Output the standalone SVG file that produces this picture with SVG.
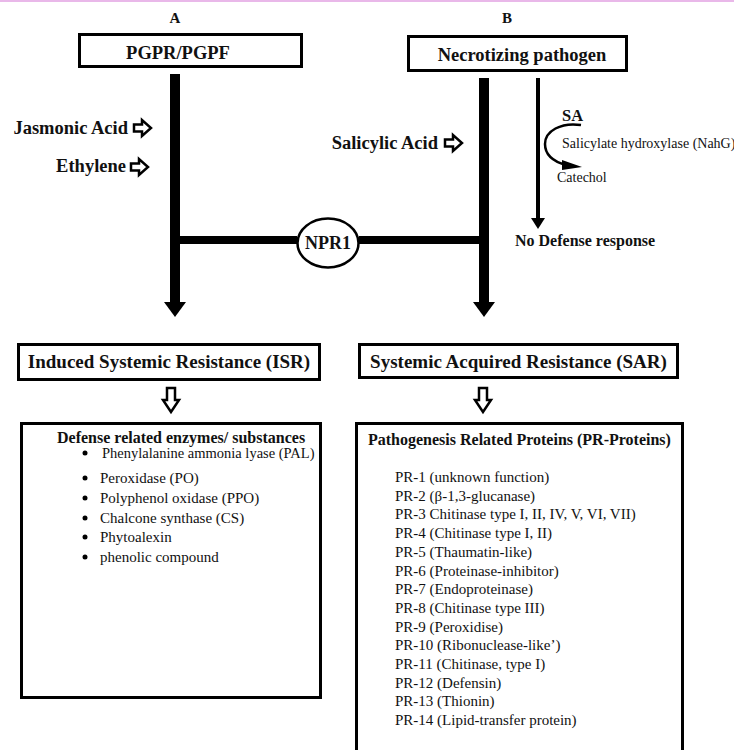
<svg xmlns="http://www.w3.org/2000/svg" width="734" height="750" viewBox="0 0 734 750">
<style>
text{font-family:"Liberation Serif","Times New Roman",serif;fill:#111}
.b{font-weight:bold}
.box{fill:#fff;stroke:#000;stroke-width:3}
.hol{fill:#fff;stroke:#000;stroke-width:2.5;stroke-linejoin:miter}
.bar{stroke:#000;fill:none}
</style>
<defs>
<path id="rarr" d="M0,-3.5 H8 V-8 L17,0 L8,8 V3.5 H0 Z"/>
<path id="darr" d="M-4,0 H4 V12 H8 L0,24 L-8,12 H-4 Z"/>
</defs>
<rect x="0" y="0" width="734" height="750" fill="#fff"/>
<line x1="0" y1="1" x2="734" y2="1" stroke="#e9b8e9" stroke-width="2"/>

<text class="b" x="175" y="23" font-size="15" text-anchor="middle">A</text>
<text class="b" x="507" y="23" font-size="15" text-anchor="middle">B</text>

<g id="connectors">
<line class="bar" x1="175" y1="74" x2="175" y2="303" stroke-width="10"/>
<polygon points="164,302 186,302 175,317" fill="#000"/>
<line class="bar" x1="484" y1="78" x2="484" y2="303" stroke-width="10"/>
<polygon points="473,302 495,302 484,317" fill="#000"/>
<line class="bar" x1="180" y1="240" x2="297" y2="240" stroke-width="8"/>
<line class="bar" x1="359" y1="240" x2="480" y2="240" stroke-width="8"/>
<line class="bar" x1="538" y1="78" x2="538" y2="219" stroke-width="4"/>
<polygon points="531,218 545,218 538,229" fill="#000"/>
<path class="bar" d="M581,125 C561,122 545,131 545,144 C545,156 555,162 566,165" stroke-width="2.5"/>
<polygon points="562,160 582,167 562,170" fill="#000"/>
<use href="#rarr" class="hol" x="134" y="128"/>
<use href="#rarr" class="hol" x="131" y="167"/>
<use href="#rarr" class="hol" x="445" y="143"/>
<use href="#darr" class="hol" x="171" y="388"/>
<use href="#darr" class="hol" x="483" y="388"/>
</g>

<g id="pgpr">
<rect class="box" x="79.5" y="34.5" width="222" height="32"/>
<text class="b" x="178" y="58.5" font-size="18.5" text-anchor="middle">PGPR/PGPF</text>
</g>
<g id="necrotizing">
<rect class="box" x="408.5" y="36.5" width="218" height="34"/>
<text class="b" x="522" y="61" font-size="18.5" text-anchor="middle">Necrotizing pathogen</text>
</g>

<g id="jasmonic"><text class="b" x="128" y="134" font-size="18.5" text-anchor="end">Jasmonic Acid</text></g>
<g id="ethylene"><text class="b" x="126" y="172" font-size="18.5" text-anchor="end">Ethylene</text></g>
<g id="salicylic"><text class="b" x="438" y="149" font-size="18.5" text-anchor="end">Salicylic Acid</text></g>

<g id="sa">
<text class="b" x="562" y="121" font-size="16.5">SA</text>
<text x="562" y="148" font-size="14">Salicylate hydroxylase (NahG)</text>
<text x="557" y="182" font-size="14">Catechol</text>
</g>
<g id="nodefense"><text class="b" x="515" y="246" font-size="16">No Defense response</text></g>

<g id="npr1">
<ellipse cx="328" cy="243" rx="30.5" ry="24.5" fill="#fff" stroke="#000" stroke-width="2.5"/>
<text class="b" x="328" y="249" font-size="18" text-anchor="middle">NPR1</text>
</g>

<g id="isr">
<rect class="box" x="18.5" y="344.5" width="301" height="35"/>
<text class="b" x="169" y="368" font-size="19" text-anchor="middle">Induced Systemic Resistance (ISR)</text>
</g>
<g id="sar">
<rect class="box" x="359.5" y="344.5" width="318" height="33"/>
<text class="b" x="518.5" y="368" font-size="19" text-anchor="middle">Systemic Acquired Resistance (SAR)</text>
</g>

<g id="enzymes">
<rect class="box" x="21.5" y="423.5" width="299" height="274"/>
<text class="b" x="57" y="443" font-size="16">Defense related enzymes/ substances</text>
<g fill="#000">
<circle cx="85" cy="453" r="2.5"/><circle cx="85" cy="478" r="2.5"/><circle cx="85" cy="498" r="2.5"/>
<circle cx="85" cy="518" r="2.5"/><circle cx="85" cy="537" r="2.5"/><circle cx="85" cy="557" r="2.5"/>
</g>
<text x="102" y="458" font-size="14.5">Phenylalanine ammonia lyase (PAL)</text>
<text x="100" y="483" font-size="15">Peroxidase (PO)</text>
<text x="100" y="503" font-size="15">Polyphenol oxidase (PPO)</text>
<text x="100" y="523" font-size="15">Chalcone synthase (CS)</text>
<text x="100" y="542" font-size="15">Phytoalexin</text>
<text x="100" y="562" font-size="15">phenolic compound</text>
</g>

<g id="prproteins">
<rect class="box" x="356.5" y="423.5" width="326" height="330"/>
<text class="b" x="368" y="445" font-size="16">Pathogenesis Related Proteins (PR-Proteins)</text>
<g font-size="15">
<text x="395" y="482">PR-1 (unknown function)</text>
<text x="395" y="500.7">PR-2 (β-1,3-glucanase)</text>
<text x="395" y="519.4">PR-3 Chitinase type I, II, IV, V, VI, VII)</text>
<text x="395" y="538.1">PR-4 (Chitinase type I, II)</text>
<text x="395" y="556.8">PR-5 (Thaumatin-like)</text>
<text x="395" y="575.5">PR-6 (Proteinase-inhibitor)</text>
<text x="395" y="594.2">PR-7 (Endoproteinase)</text>
<text x="395" y="612.9">PR-8 (Chitinase type III)</text>
<text x="395" y="631.6">PR-9 (Peroxidise)</text>
<text x="395" y="650.3">PR-10 (Ribonuclease-like’)</text>
<text x="395" y="669">PR-11 (Chitinase, type I)</text>
<text x="395" y="687.7">PR-12 (Defensin)</text>
<text x="395" y="706.4">PR-13 (Thionin)</text>
<text x="395" y="725.1">PR-14 (Lipid-transfer protein)</text>
</g>
</g>
</svg>
